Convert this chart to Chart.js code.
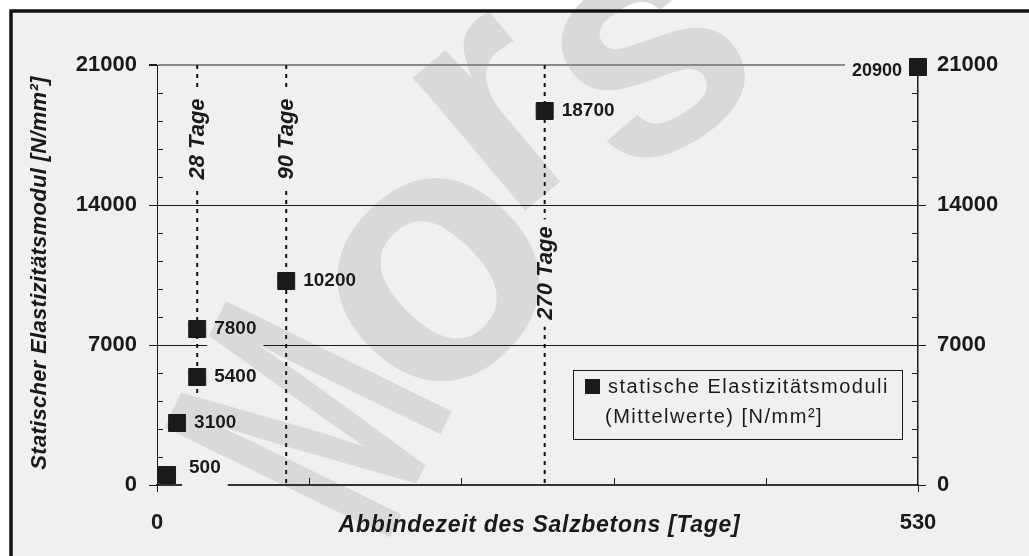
<!DOCTYPE html>
<html>
<head>
<meta charset="utf-8">
<script src="https://cdn.jsdelivr.net/npm/chart.js@4.4.0/dist/chart.umd.min.js"></script>
<style>
  html, body { margin: 0; padding: 0; background: #fff; }
  #wrap { position: relative; width: 1029px; height: 556px; }
</style>
</head>
<body>
<div id="wrap"><canvas id="emodulChart"></canvas></div>
<script>
// Abbindezeit [Tage] und statischer E-Modul [N/mm²]
const days = [7, 14, 28, 28, 90, 270, 530];
const moduli = [500, 3100, 5400, 7800, 10200, 18700, 20900];

// Prüfalter als senkrechte Hilfslinien
const refDays = [28, 90, 270];
const refNames = ["28 Tage", "90 Tage", "270 Tage"];
const refLower = [4600, 0, 0];
const refTextAt = [17300, 17300, 10600];

const yLabels = [0, 7000, 14000, 21000];
const xLabels = [0, 530];
const yMax = 21000, yMinorStep = 1400;
const xMax = 530, xStep = 106;

const FONT = "'Liberation Sans', Arial, Helvetica, sans-serif";
const BG = "#f0f0f0";
const INK = "#1a1a1a";

function minorTicks(scale) {
    const t = [];
    for (let v = 0; v <= yMax; v += yMinorStep) t.push({ value: v });
    scale.ticks = t;
}

// kleine Verschiebungen der Punktbeschriftungen
const labelShift = { 0: [22, -7], 6: [-16, 4] };

// Wasserzeichen: Buchstabe, Mitte, Drehung, Größe, Breite
const stampLetters = [
    ["M", 306, 417, 64, 365, 0.55],
    ["o", 438, 280, 45, 360, 1],
    ["r", 505, 110, 40, 330, 1],
    ["s", 650, 62, 32, 330, 1],
];

function stamp(ctx, ch, cx, cy, deg, size, sx) {
    ctx.save();
    ctx.translate(cx, cy);
    ctx.rotate(-deg * Math.PI / 180);
    ctx.scale(sx, 1);
    ctx.font = "bold " + size + "px " + FONT;
    const m = ctx.measureText(ch);
    const x = (m.actualBoundingBoxLeft - m.actualBoundingBoxRight) / 2;
    const y = (m.actualBoundingBoxAscent - m.actualBoundingBoxDescent) / 2;
    ctx.fillText(ch, x, y);
    ctx.restore();
}

const decor = {
    id: "decor",
    beforeDraw(chart) {
        const ctx = chart.ctx;
        ctx.save();
        ctx.fillStyle = "#fff";
        ctx.fillRect(0, 0, chart.width, chart.height);
        ctx.fillStyle = BG;
        ctx.fillRect(11, 11, chart.width, chart.height);
        ctx.strokeStyle = "#111";
        ctx.lineWidth = 3.5;
        ctx.strokeRect(11, 11, chart.width + 20, chart.height + 20);
        ctx.restore();
    },
    beforeDatasetsDraw(chart) {
        // kurze Teilstriche nach innen
        const ctx = chart.ctx;
        const a = chart.chartArea;
        const y = chart.scales.y, x = chart.scales.x;
        ctx.save();
        ctx.strokeStyle = INK;
        ctx.lineWidth = 1;
        ctx.beginPath();
        y.ticks.forEach((t) => {
            if (yLabels.includes(t.value)) return;
            const py = Math.round(y.getPixelForValue(t.value)) + 0.5;
            ctx.moveTo(a.left, py); ctx.lineTo(a.left + 6, py);
            ctx.moveTo(a.right - 6, py); ctx.lineTo(a.right, py);
        });
        x.ticks.forEach((t) => {
            if (xLabels.includes(t.value)) return;
            const px = Math.round(x.getPixelForValue(t.value)) + 0.5;
            ctx.moveTo(px, a.bottom); ctx.lineTo(px, a.bottom - 7);
        });
        ctx.stroke();
        ctx.restore();
    },
    afterDatasetsDraw(chart) {
        const ctx = chart.ctx;
        const a = chart.chartArea;
        const xs = chart.scales.x, ys = chart.scales.y;
        ctx.save();

        // Werte an den Punkten
        const pts = chart.getDatasetMeta(0).data;
        ctx.textBaseline = "middle";
        pts.forEach((p, i) => {
            const s = labelShift[i] || [17, 0];
            const txt = String(moduli[i]);
            ctx.font = (i === 6 ? "bold 18px " : "bold 19px ") + FONT;
            const w = ctx.measureText(txt).width;
            const cy = p.y + s[1];
            let left = p.x + s[0];
            if (s[0] < 0) left = p.x + s[0] - w;
            ctx.fillStyle = BG;
            ctx.fillRect(left - 7, cy - 18, w + 14, 36);
            ctx.fillStyle = INK;
            ctx.textAlign = "left";
            ctx.fillText(txt, left, cy);
        });

        // Beschriftung der Hilfslinien
        ctx.font = "italic bold 22px " + FONT;
        refDays.forEach((d, i) => {
            const px = xs.getPixelForValue(d);
            const py = ys.getPixelForValue(refTextAt[i]);
            const w = ctx.measureText(refNames[i]).width;
            ctx.save();
            ctx.translate(px, py);
            ctx.rotate(-Math.PI / 2);
            ctx.fillStyle = BG;
            ctx.fillRect(-w / 2 - 7, -12, w + 14, 24);
            ctx.fillStyle = INK;
            ctx.textAlign = "center";
            ctx.fillText(refNames[i], 0, 1);
            ctx.restore();
        });

        // Legende
        const lx = a.right - 345, ly = a.bottom - 115;
        ctx.strokeStyle = INK;
        ctx.lineWidth = 1;
        ctx.strokeRect(lx + 0.5, ly + 0.5, 329, 69);
        ctx.fillStyle = INK;
        ctx.fillRect(lx + 12, ly + 9, 15, 15);
        ctx.font = "20px " + FONT;
        ctx.letterSpacing = "1.5px";
        ctx.textAlign = "left";
        ctx.fillText("statische Elastizitätsmoduli", lx + 35, ly + 17);
        ctx.fillText("(Mittelwerte) [N/mm²]", lx + 32, ly + 47);

        // Achsentitel
        ctx.letterSpacing = "0.7px";
        ctx.font = "italic bold 23px " + FONT;
        ctx.textAlign = "center";
        ctx.fillText("Abbindezeit des Salzbetons [Tage]", (a.left + a.right) / 2 + 2, a.bottom + 41);
        ctx.letterSpacing = "0.3px";
        ctx.font = "italic bold 22px " + FONT;
        ctx.translate(40, (a.top + a.bottom) / 2 - 2);
        ctx.rotate(-Math.PI / 2);
        ctx.fillText("Statischer Elastizitätsmodul [N/mm²]", 0, 0);
        ctx.restore();
    },
    afterDraw(chart) {
        const ctx = chart.ctx;
        ctx.save();
        ctx.globalCompositeOperation = "darken";
        ctx.fillStyle = "#d9d9d9";
        stampLetters.forEach((l) => stamp(ctx, ...l));
        ctx.restore();
    }
};

const scatterData = days.map((d, i) => ({ x: d, y: moduli[i] }));

const refSets = refDays.map((d, i) => ({
    type: "line",
    data: [{ x: d, y: yMax }, { x: d, y: refLower[i] }],
    borderColor: "#111",
    borderWidth: 2,
    borderDash: [4, 5],
    pointRadius: 0,
    fill: false,
    order: 1,
}));

const ctx = document.getElementById("emodulChart").getContext("2d");
const chart = new Chart(ctx, {
    type: "scatter",
    data: {
        datasets: [
            {
                label: "statische Elastizitätsmoduli (Mittelwerte) [N/mm²]",
                data: scatterData,
                pointStyle: "rect",
                pointRadius: 12,
                pointHoverRadius: 12,
                backgroundColor: INK,
                borderColor: INK,
                borderWidth: 1,
                clip: false,
                order: 0,
            },
            ...refSets,
        ],
    },
    options: {
        responsive: true,
        maintainAspectRatio: false,
        animation: false,
        devicePixelRatio: 1,
        layout: { padding: { top: 65 } },
        plugins: {
            legend: { display: false },
            tooltip: { enabled: false },
        },
        scales: {
            x: {
                type: "linear",
                min: 0,
                max: xMax,
                ticks: {
                    stepSize: xStep,
                    autoSkip: false,
                    maxRotation: 0,
                    padding: 18,
                    color: INK,
                    font: { family: FONT, size: 22, weight: "bold" },
                    callback: (v) => (xLabels.includes(v) ? v : ""),
                },
                grid: {
                    drawOnChartArea: false,
                    tickLength: 7,
                    tickColor: (c) => (xLabels.includes(c.tick.value) ? INK : "rgba(0,0,0,0)"),
                },
                border: { color: "#333", width: 2 },
                afterFit: (s) => { s.height = 71; },
            },
            y: {
                min: 0,
                max: yMax,
                afterBuildTicks: minorTicks,
                ticks: {
                    autoSkip: false,
                    padding: 12,
                    color: INK,
                    font: { family: FONT, size: 22, weight: "bold" },
                    callback: (v) => (yLabels.includes(v) ? v : ""),
                },
                grid: {
                    color: (c) => {
                        const v = c.tick.value;
                        if (v === yMax) return "#8a8a8a";
                        if (v > 0 && yLabels.includes(v)) return INK;
                        return "rgba(0,0,0,0)";
                    },
                    lineWidth: (c) => (c.tick.value === yMax ? 2 : 1),
                    tickLength: 8,
                    tickColor: (c) => (yLabels.includes(c.tick.value) ? INK : "rgba(0,0,0,0)"),
                },
                border: { color: INK, width: 1 },
                afterFit: (s) => { s.width = 157; },
            },
            y2: {
                position: "right",
                min: 0,
                max: yMax,
                afterBuildTicks: minorTicks,
                ticks: {
                    autoSkip: false,
                    padding: 11,
                    color: INK,
                    font: { family: FONT, size: 22, weight: "bold" },
                    callback: (v) => (yLabels.includes(v) ? v : ""),
                },
                grid: {
                    drawOnChartArea: false,
                    tickLength: 8,
                    tickColor: (c) => (yLabels.includes(c.tick.value) ? INK : "rgba(0,0,0,0)"),
                },
                border: { color: INK, width: 1.5 },
                afterFit: (s) => { s.width = 111; },
            },
        },
    },
    plugins: [decor],
});
</script>
</body>
</html>
